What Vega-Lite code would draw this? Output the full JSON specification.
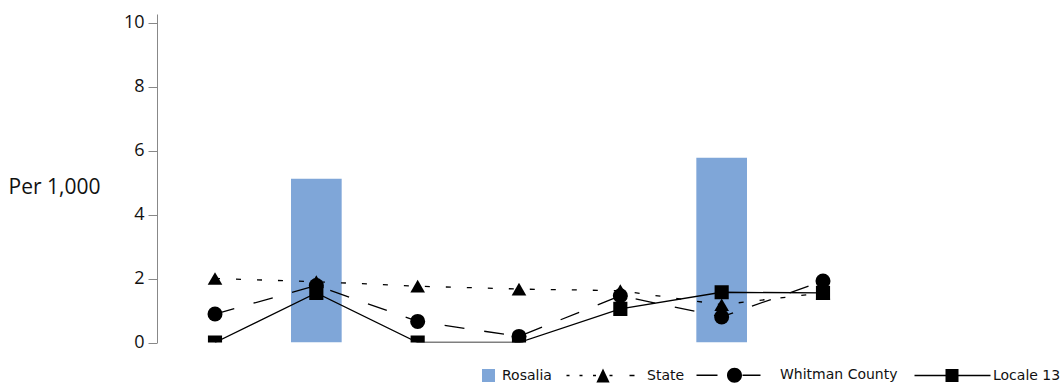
{
  "$schema": "https://vega.github.io/schema/vega-lite/v6.json",
  "autosize": "none",
  "width": 724,
  "height": 328.5,
  "padding": {"left": 157, "top": 14, "right": 181, "bottom": 43.5},
  "config": {"view": {"stroke": null}, "font": "Open Sans"},
  "data": {
    "values": [
      {"cat": "1", "series": "State", "value": 2.0},
      {"cat": "2", "series": "State", "value": 1.9},
      {"cat": "3", "series": "State", "value": 1.76},
      {"cat": "4", "series": "State", "value": 1.67},
      {"cat": "5", "series": "State", "value": 1.62},
      {"cat": "6", "series": "State", "value": 1.18},
      {"cat": "7", "series": "State", "value": 1.55},
      {"cat": "1", "series": "Whitman County", "value": 0.89},
      {"cat": "2", "series": "Whitman County", "value": 1.78},
      {"cat": "3", "series": "Whitman County", "value": 0.66},
      {"cat": "4", "series": "Whitman County", "value": 0.19},
      {"cat": "5", "series": "Whitman County", "value": 1.46},
      {"cat": "6", "series": "Whitman County", "value": 0.8},
      {"cat": "7", "series": "Whitman County", "value": 1.92},
      {"cat": "1", "series": "Locale 13", "value": 0},
      {"cat": "2", "series": "Locale 13", "value": 1.55},
      {"cat": "3", "series": "Locale 13", "value": 0},
      {"cat": "4", "series": "Locale 13", "value": 0},
      {"cat": "5", "series": "Locale 13", "value": 1.05},
      {"cat": "6", "series": "Locale 13", "value": 1.57},
      {"cat": "7", "series": "Locale 13", "value": 1.55},
      {"cat": "2", "series": "Rosalia", "value": 5.12},
      {"cat": "6", "series": "Rosalia", "value": 5.77}
    ]
  },
  "encoding": {
    "x": {
      "field": "cat",
      "type": "nominal",
      "axis": null,
      "scale": {"domain": ["1", "2", "3", "4", "5", "6", "7"], "paddingInner": 0, "paddingOuter": 0.0724}
    },
    "y": {
      "field": "value",
      "type": "quantitative",
      "scale": {"domain": [0, 10.266], "nice": false, "zero": true},
      "axis": {
        "values": [0, 2, 4, 6, 8, 10],
        "title": "Per 1,000",
        "grid": false,
        "domainColor": "#888888",
        "tickColor": "#888888",
        "tickSize": 9,
        "labelFont": "Open Sans",
        "labelFontSize": 18,
        "labelColor": "#111111",
        "labelPadding": 4,
        "titleFont": "Open Sans",
        "titleAngle": 0,
        "titleFontSize": 21,
        "titleFontWeight": "normal",
        "titleColor": "#111111",
        "titleAlign": "left",
        "titleBaseline": "alphabetic",
        "titleX": -149,
        "titleY": 179
      }
    }
  },
  "layer": [
    {
      "transform": [{"filter": "datum.series == 'Rosalia'"}],
      "mark": {"type": "bar", "color": "#7fa6d8", "width": {"band": 0.5}, "clip": true}
    },
    {
      "transform": [{"filter": "datum.series == 'State'"}],
      "mark": {"type": "line", "color": "black", "strokeWidth": 1.3, "strokeDash": [5, 16], "clip": true}
    },
    {
      "transform": [{"filter": "datum.series == 'Whitman County'"}],
      "mark": {"type": "line", "color": "black", "strokeWidth": 1.3, "strokeDash": [20, 20], "clip": true}
    },
    {
      "transform": [{"filter": "datum.series == 'Locale 13'"}],
      "mark": {"type": "line", "color": "black", "strokeWidth": 1.3, "clip": true}
    },
    {
      "transform": [{"filter": "datum.series == 'State'"}],
      "mark": {"type": "point", "shape": "triangle-up", "size": 215, "filled": true, "color": "black", "opacity": 1, "clip": true}
    },
    {
      "transform": [{"filter": "datum.series == 'Whitman County'"}],
      "mark": {"type": "point", "shape": "circle", "size": 225, "filled": true, "color": "black", "opacity": 1, "clip": true}
    },
    {
      "transform": [{"filter": "datum.series == 'Locale 13'"}],
      "mark": {"type": "point", "shape": "square", "size": 200, "filled": true, "color": "black", "opacity": 1, "clip": true}
    },
    {
      "transform": [{"filter": "false"}],
      "mark": {"type": "point", "filled": true, "opacity": 1},
      "encoding": {
        "color": {
          "field": "series",
          "type": "nominal",
          "scale": {
            "domain": ["Rosalia", "State", "Whitman County", "Locale 13"],
            "range": ["#7fa6d8", "black", "black", "black"]
          },
          "legend": {
            "orient": "none",
            "legendX": 261,
            "legendY": 321,
            "direction": "horizontal",
            "title": null,
            "padding": 0,
            "symbolSize": 6400,
            "symbolStrokeWidth": 0,
            "symbolOpacity": 1,
            "labelFont": "DejaVu Sans",
            "labelFontSize": 14,
            "labelColor": "#111111",
            "labelOffset": 4,
            "columnPadding": 11
          }
        },
        "shape": {
          "field": "series",
          "type": "nominal",
          "scale": {
            "domain": ["Rosalia", "State", "Whitman County", "Locale 13"],
            "range": [
              "M0.6,-0.1625H0.925V0.1625H0.6Z",
              "M-0.9125,-0.018H-0.8375V0.018H-0.9125Z M-0.5875,-0.018H-0.5125V0.018H-0.5875Z M-0.25,-0.018H-0.175V0.018H-0.25Z M0.1625,-0.018H0.2375V0.018H0.1625Z M0.6625,-0.018H0.7875V0.018H0.6625Z M0,-0.175L0.166,0.175L-0.166,0.175Z",
              "M-0.9875,-0.018H-0.4625V0.018H-0.9875Z M0.1625,-0.018H0.6125V0.018H0.1625Z M-0.225,0A0.1875,0.1875 0 1,1 0.15,0A0.1875,0.1875 0 1,1 -0.225,0Z",
              "M-0.8625,-0.018H-0.0875V0.018H-0.8625Z M0.2375,-0.018H1.0375V0.018H0.2375Z M-0.0875,-0.1625H0.2375V0.1625H-0.0875Z"
            ]
          },
          "legend": {
            "orient": "none",
            "legendX": 261,
            "legendY": 321,
            "direction": "horizontal",
            "title": null,
            "padding": 0,
            "symbolSize": 6400,
            "symbolStrokeWidth": 0,
            "symbolOpacity": 1,
            "labelFont": "DejaVu Sans",
            "labelFontSize": 14,
            "labelColor": "#111111",
            "labelOffset": 4,
            "columnPadding": 11
          }
        }
      }
    }
  ]
}
